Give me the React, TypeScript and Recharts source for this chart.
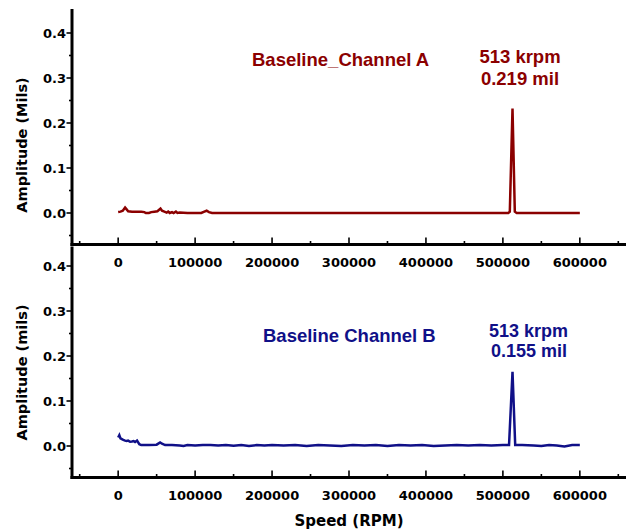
import React from "react";
import { LineChart, Line, XAxis, YAxis } from "recharts";

// Channel A spectrum (speed in RPM, amplitude in mils)
const speedA = [
  0, 3000, 6000, 9000, 11000, 13000, 18000, 24000, 30000, 34000, 36000, 40000,
  43000, 47000, 51000, 55000, 57000, 60000, 63000, 65000, 67000, 70000, 72000,
  75000, 77000, 80000, 90000, 100000, 108000, 112000, 115000, 118000, 122000,
  150000, 200000, 250000, 300000, 350000, 400000, 450000, 500000, 507000,
  509000, 512500, 515500, 518000, 550000, 600000,
];
const ampA = [
  0.002, 0.003, 0.005, 0.012, 0.008, 0.004, 0.003, 0.003, 0.003, 0.002, 0.0, 0.0,
  0.002, 0.003, 0.004, 0.01, 0.005, 0.003, 0.001, 0.003, 0.0, 0.002, 0.0,
  0.003, 0.0, 0.001, 0.0, 0.0, 0.0, 0.003, 0.005, 0.002, 0.0,
  0.0, 0.0, 0.0, 0.0, 0.0, 0.0, 0.0, 0.0, 0.0,
  0.003, 0.232, 0.003, 0.0, 0.0, 0.0,
];

// Channel B spectrum
const speedB = [
  0, 1500, 3000, 6000, 9000, 11000, 13000, 15500, 18000, 20000, 22000, 24500,
  27500, 30000, 40000, 50000, 54500, 57000, 61000, 70000, 80000, 85000, 90000,
  100000, 110000, 120000, 130000, 140000, 150000, 160000, 170000, 180000,
  190000, 200000, 215000, 230000, 245000, 260000, 275000, 290000, 305000,
  320000, 335000, 350000, 365000, 380000, 395000, 410000, 425000, 440000,
  455000, 470000, 485000, 500000, 508000, 512500, 516000, 525000, 540000,
  550000, 560000, 570000, 580000, 590000, 600000,
];
const ampB = [
  0.019, 0.024, 0.017, 0.014, 0.012, 0.011, 0.012, 0.0095, 0.01, 0.011, 0.009, 0.012,
  0.004, 0.002, 0.002, 0.003, 0.008, 0.005, 0.002, 0.002, 0.001, 0.0, 0.002,
  0.001, 0.002, 0.002, 0.001, 0.002, 0.0005, 0.002, 0.0, 0.002, 0.001,
  0.002, 0.001, 0.002, 0.0, 0.002, 0.001, 0.0, 0.002, 0.001, 0.002, 0.0,
  0.002, 0.001, 0.002, 0.0, 0.001, 0.002, 0.001, 0.002, 0.001, 0.002, 0.002,
  0.165, 0.002, 0.002, 0.001, 0.0, 0.002, 0.001, -0.001, 0.002, 0.002,
];

const xTicks = [-50000, 0, 50000, 100000, 150000, 200000, 250000, 300000, 350000, 400000, 450000, 500000, 550000, 600000, 650000];
const yTicks = [-0.05, 0, 0.05, 0.1, 0.15, 0.2, 0.25, 0.3, 0.35, 0.4];

const dataA = speedA.map((s, i) => ({ s, a: ampA[i] }));
const dataB = speedB.map((s, i) => ({ s, a: ampB[i] }));

const RED = "#8b0000";
const BLUE = "#101088";
const AXIS_FONT = "'DejaVu Sans', sans-serif";
const NOTE_FONT = "'Liberation Sans', Arial, sans-serif";

const XTick = (props: any) => {
  const { x, y, payload } = props;
  const v = payload.value;
  const major = v >= 0 && v <= 600000 && v % 100000 === 0;
  return (
    <g>
      <line x1={x} x2={x} y1={y} y2={y - (major ? 7 : 3.5)} stroke="#000" strokeWidth={1.6} />
      {major && (
        <text x={x} y={y + 22} textAnchor="middle" fontFamily={AXIS_FONT} fontWeight="bold" fontSize={13} fill="#000">
          {v}
        </text>
      )}
    </g>
  );
};

const YTick = (props: any) => {
  const { x, y, payload } = props;
  const v = payload.value;
  const major = v >= 0 && Math.abs(v * 10 - Math.round(v * 10)) < 1e-6;
  return (
    <g>
      <line x1={x - (major ? 5.5 : 3)} x2={x} y1={y} y2={y} stroke="#000" strokeWidth={1.6} />
      {major && (
        <text x={x - 6} y={y + 4.7} textAnchor="end" fontFamily={AXIS_FONT} fontWeight="bold" fontSize={13} fill="#000">
          {v.toFixed(1)}
        </text>
      )}
    </g>
  );
};

const axisLine = { stroke: "#000", strokeWidth: 3, strokeLinecap: "square" as const };

function Panel({ data, color, top, height, margin, yDomain }: any) {
  return (
    <div style={{ position: "absolute", left: 0, top, width: 626, height }}>
      <LineChart width={626} height={height} data={data} margin={margin}>
        <XAxis
          type="number"
          dataKey="s"
          domain={[-60000, 660000]}
          ticks={xTicks}
          interval={0}
          height={30}
          tickSize={0}
          tickMargin={0}
          tickLine={false}
          axisLine={axisLine}
          tick={<XTick />}
        />
        <YAxis
          type="number"
          domain={yDomain}
          ticks={yTicks}
          interval={0}
          width={60}
          tickSize={0}
          tickMargin={0}
          tickLine={false}
          axisLine={axisLine}
          tick={<YTick />}
        />
        <Line type="linear" dataKey="a" stroke={color} strokeWidth={2.5} dot={false} isAnimationActive={false} />
      </LineChart>
    </div>
  );
}

export default function App() {
  return (
    <div style={{ position: "absolute", left: 0, top: 0, width: 626, height: 529, background: "#fff", overflow: "hidden" }}>
      <Panel data={dataA} color={RED} top={0} height={280} margin={{ top: 10.5, right: 0, bottom: 5.5, left: 12 }} yDomain={[-0.07, 0.45]} />
      <Panel data={dataB} color={BLUE} top={240} height={289} margin={{ top: 8, right: 0, bottom: 21.5, left: 12 }} yDomain={[-0.07, 0.44]} />
      <svg width={626} height={529} style={{ position: "absolute", left: 0, top: 0, pointerEvents: "none" }}>
        <text transform="rotate(-90)" x={-145} y={27} textAnchor="middle" fontFamily={AXIS_FONT} fontWeight="bold" fontSize={14.5} fill="#000">
          Amplitude (Mils)
        </text>
        <text transform="rotate(-90)" x={-372.5} y={27} textAnchor="middle" fontFamily={AXIS_FONT} fontWeight="bold" fontSize={14.5} fill="#000">
          Amplitude (mils)
        </text>
        <text x={349} y={526} textAnchor="middle" fontFamily={AXIS_FONT} fontWeight="bold" fontSize={15} fill="#000">
          Speed (RPM)
        </text>
        <text x={252} y={66} fontFamily={NOTE_FONT} fontWeight="bold" fontSize={18.5} fill={RED}>
          Baseline_Channel A
        </text>
        <text x={520} y={63} textAnchor="middle" fontFamily={NOTE_FONT} fontWeight="bold" fontSize={18.5} fill={RED}>
          513 krpm
        </text>
        <text x={520} y={85} textAnchor="middle" fontFamily={NOTE_FONT} fontWeight="bold" fontSize={18.5} fill={RED}>
          0.219 mil
        </text>
        <text x={263} y={342} fontFamily={NOTE_FONT} fontWeight="bold" fontSize={18.5} fill={BLUE}>
          Baseline Channel B
        </text>
        <text x={528.5} y={337} textAnchor="middle" fontFamily={NOTE_FONT} fontWeight="bold" fontSize={18} fill={BLUE}>
          513 krpm
        </text>
        <text x={529} y={357} textAnchor="middle" fontFamily={NOTE_FONT} fontWeight="bold" fontSize={18} fill={BLUE}>
          0.155 mil
        </text>
      </svg>
    </div>
  );
}
